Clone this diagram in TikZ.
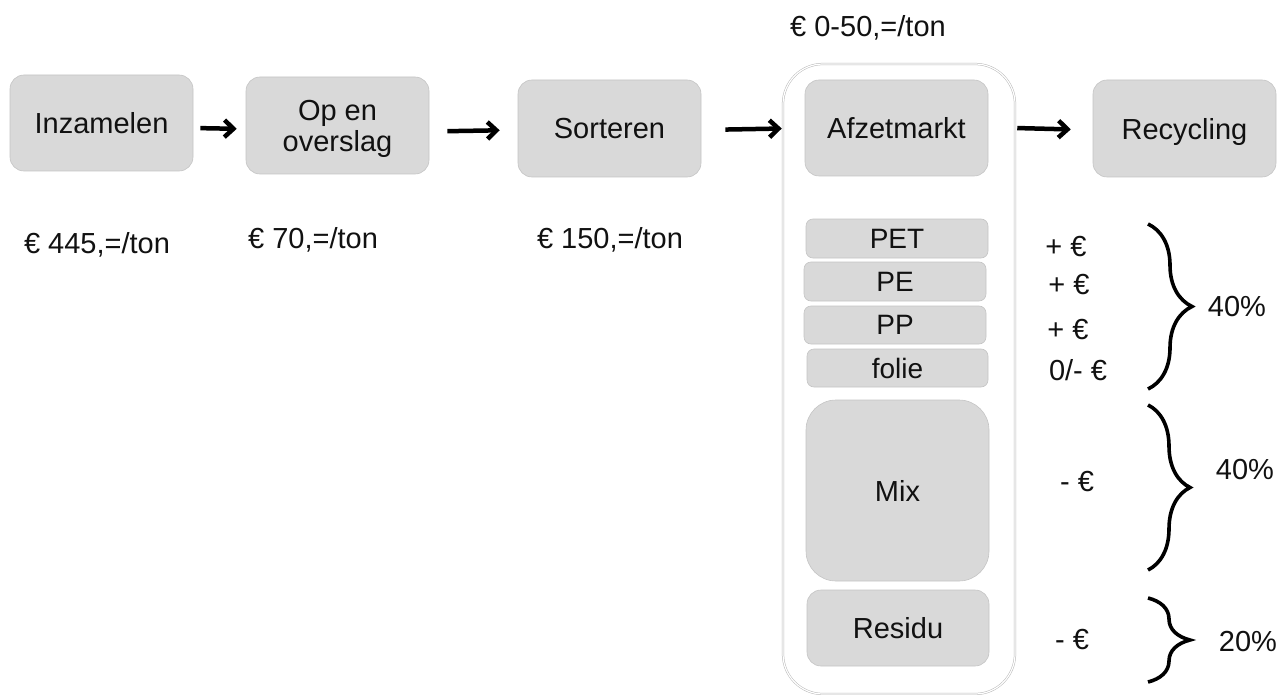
\documentclass[tikz,border=0pt]{standalone}
\usepackage{fontspec}
\setmainfont{Liberation Sans}
\usetikzlibrary{arrows.meta,decorations.pathreplacing}
\definecolor{boxfill}{HTML}{D9D9D9}
\definecolor{boxline}{HTML}{C4C4C4}
\definecolor{txt}{HTML}{111111}
\begin{document}
\begin{tikzpicture}[x=1pt,y=-1pt,
  box/.style={draw=boxline, line width=0.6pt, fill=boxfill, rounded corners=14pt,
    inner sep=0pt, align=center, text=txt, text depth=0pt, font=\fontsize{29}{31}\selectfont},
  small/.style={box, rounded corners=7pt, font=\fontsize{28}{30}\selectfont},
  lbl/.style={inner sep=0pt, text=txt, font=\fontsize{29}{32}\selectfont},
  arr/.style={line width=4.5pt, -{Straight Barb[length=9pt,width=17pt]}},
  brc/.style={line width=3.6pt, decorate, decoration={brace, amplitude=#1}}]
\useasboundingbox (0,0) rectangle (1281,695);

% container
\node[draw=black!28, double=white, double distance=1.2pt, line width=0.5pt,
  rounded corners=40pt, minimum width=232pt, minimum height=630pt, inner sep=0pt]
  (markt) at (899,379) {};

% main chain
\node[box, minimum width=183pt, minimum height=96pt] (inz) at (101.5,123) {Inzamelen};
\node[box, minimum width=183pt, minimum height=97pt] (op) at (337.5,125.5) {Op en\\overslag};
\node[box, minimum width=183pt, minimum height=97pt] (sort) at (609.5,128.5) {Sorteren};
\node[box, minimum width=183pt, minimum height=96pt] (afz) at (896.5,128) {Afzetmarkt};
\node[box, minimum width=183pt, minimum height=97pt] (rec) at (1184.5,128.5) {Recycling};

\draw[arr, shorten <=7pt, shorten >=9pt] ([yshift=-5pt]inz.east) -- ([yshift=-3.5pt]op.west);
\draw[arr, shorten <=18pt, shorten >=18pt] ([yshift=-6pt]op.east) -- ([yshift=-1.5pt]sort.west);
\draw[arr, shorten <=24pt, shorten >=1pt] ([yshift=-1.5pt]sort.east) -- (sort.east -| markt.west);
\draw[arr, shorten <=2pt, shorten >=22pt] (afz.east -| markt.east) -- ([yshift=-1.5pt]rec.west);

% fractions
\node[small, minimum width=182pt, minimum height=39pt] (pet) at (897,238.5) {PET};
\node[small, minimum width=182pt, minimum height=39pt] (pe) at (895,281.5) {PE};
\node[small, minimum width=182pt, minimum height=38pt] (pp) at (895,325) {PP};
\node[small, minimum width=181pt, minimum height=38pt] (folie) at (897.5,368) {folie};
\node[box, rounded corners=30pt, minimum width=183pt, minimum height=181pt] (mix) at (897.5,490.5) {Mix};
\node[box, minimum width=182pt, minimum height=76pt] (res) at (898,628) {Residu};

% cost labels
\node[lbl] (c0) at (868,28) {€ 0-50,=/ton};
\node[lbl] (c1) at (97,245) {€ 445,=/ton};
\node[lbl] (c2) at (313,240) {€ 70,=/ton};
\node[lbl] (c3) at (610,240) {€ 150,=/ton};

\node[lbl] (v1) at (1066,247) {+ €};
\node[lbl] (v2) at (1069,285) {+ €};
\node[lbl] (v3) at (1068,330) {+ €};
\node[lbl] (v4) at (1078,370) {0/- €};
\node[lbl] (v5) at (1077,482) {- €};
\node[lbl] (v6) at (1072,640) {- €};

% braces
\coordinate (b1t) at (1148,224);
\coordinate (b1b) at (1148,389);
\coordinate (b2t) at (1148,405);
\coordinate (b2b) at (1148,570);
\coordinate (b3t) at (1148,598);
\coordinate (b3b) at (1148,682);
\draw[brc=44pt] (b1t) -- (b1b);
\draw[brc=42pt] (b2t) -- (b2b);
\draw[brc=42pt] (b3t) -- (b3b);

\node[lbl] (p1) at (1237,307) {40\%};
\node[lbl] (p2) at (1245,470) {40\%};
\node[lbl] (p3) at (1248,642) {20\%};
\end{tikzpicture}
\end{document}
